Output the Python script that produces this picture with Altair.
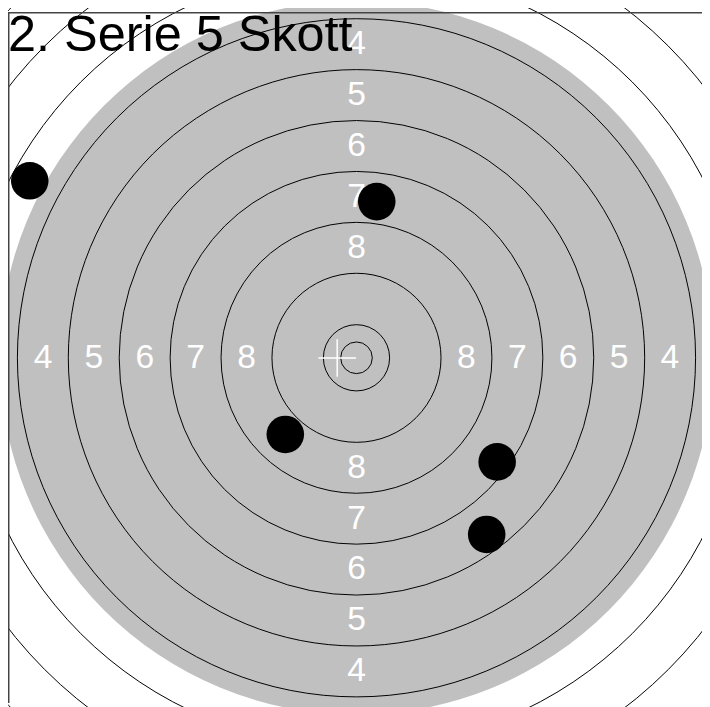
import altair as alt
import pandas as pd

# ---- data (units: 1 unit = 1 px, origin = target centre) ----
ring_names = ["X", "10", "9", "8", "7", "6", "5", "4", "3", "2", "1"]
ring_radii = [16, 33.5, 85.5, 137, 188.5, 240, 291.5, 343, 394.5, 446, 497.5]
disk_radius = [361]

label_values = ["4", "5", "6", "7", "8"]
label_dist = [317, 265.75, 214, 162.75, 111.25]

shot_no = [1, 2, 3, 4, 5]
shot_x = [-330.5, 20.5, -72.0, 142.3, 131.7]
shot_y = [179.0, 158.0, -77.5, -105.3, -178.7]

mpi_x = [-19.5]
mpi_y = [-0.2]

title_text = ["2. Serie 5 Skott"]

# ---- tables ----
rings = pd.DataFrame({"ring": ring_names, "r": ring_radii, "cx": 0.0, "cy": 0.0})
disk = pd.DataFrame({"r": disk_radius, "cx": 0.0, "cy": 0.0})
lab_rows = []
for v, d in zip(label_values, label_dist):
    for sx, sy in [(-1, 0), (1, 0), (0, 1), (0, -1)]:
        lab_rows.append({"t": v, "x": sx * d, "y": sy * d})
labels = pd.DataFrame(lab_rows)
shots = pd.DataFrame({"shot": shot_no, "x": shot_x, "y": shot_y})
mpi = pd.DataFrame({"x": mpi_x, "y": mpi_y})
title_df = pd.DataFrame({"t": title_text})

W, H = 702, 699
xs = alt.Scale(domain=[-352.5, 349.5], nice=False, zero=False)
ys = alt.Scale(domain=[-349.2, 349.8], nice=False, zero=False)
rs = alt.Scale(type="linear", domain=[0, 1000], range=[0, 1000], zero=True)

X = lambda f: alt.X(f, type="quantitative", scale=xs, axis=None)
Y = lambda f: alt.Y(f, type="quantitative", scale=ys, axis=None)
R = lambda f: alt.Radius(f, type="quantitative", scale=rs, stack=False)

disk_layer = alt.Chart(disk).mark_arc(
    theta=0, theta2=6.2832, fill="#c0c0c0", strokeWidth=0
).encode(x=X("cx"), y=Y("cy"), radius=R("r"))

ring_layer = alt.Chart(rings).mark_arc(
    theta=0, theta2=6.2832, fill="transparent", stroke="black", strokeWidth=1
).encode(x=X("cx"), y=Y("cy"), radius=R("r"), detail="ring:N")

label_layer = alt.Chart(labels).mark_text(
    font="Liberation Sans", fontSize=34, color="white", align="center", baseline="middle"
).encode(x=X("x"), y=Y("y"), text="t:N")

mpi_layer = alt.Chart(mpi).mark_point(
    shape="M-1,0H1M0,-1V1", size=1444, filled=False, stroke="white",
    strokeWidth=1.5, opacity=1
).encode(x=X("x"), y=Y("y"))

shot_layer = alt.Chart(shots).mark_circle(
    size=1444, color="black", opacity=1
).encode(x=X("x"), y=Y("y"))

title_layer = alt.Chart(title_df).mark_text(
    font="Liberation Sans", fontSize=51, color="black", align="left", baseline="alphabetic"
).encode(x=alt.value(0), y=alt.value(39), text="t:N")

frame_left = alt.Chart(title_df).mark_rule(color="#444", strokeWidth=1.5).encode(
    x=alt.value(0.75), y=alt.value(0), y2=alt.value(H)
)
frame_top = alt.Chart(title_df).mark_rule(color="#444", strokeWidth=1.5).encode(
    y=alt.value(0.75), x=alt.value(0), x2=alt.value(W)
)

chart = alt.layer(
    disk_layer, ring_layer, label_layer, mpi_layer, shot_layer, title_layer,
    frame_left, frame_top
).properties(
    width=W, height=H, autosize=alt.AutoSizeParams(type="none"),
    padding=0, background="white"
).configure_view(stroke="transparent")

chart.save("out.html", embed_options={"renderer": "svg", "actions": False})
